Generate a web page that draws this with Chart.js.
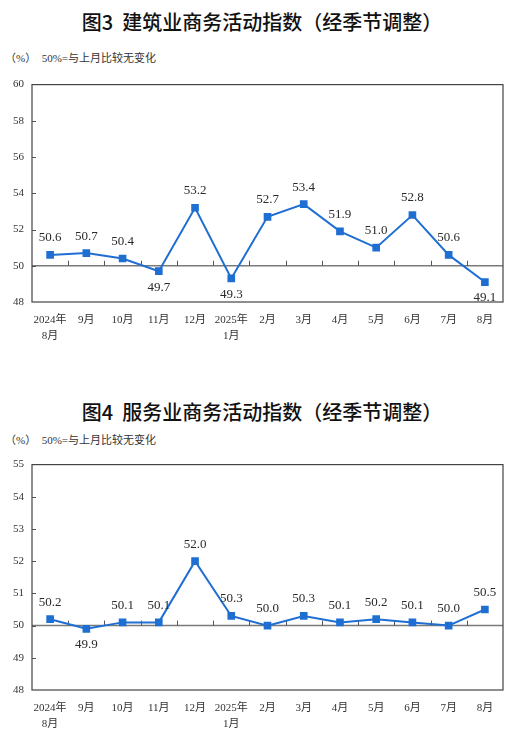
<!DOCTYPE html>
<html lang="zh">
<head>
<meta charset="UTF-8">
<title>建筑业与服务业商务活动指数</title>
<script src="https://cdn.jsdelivr.net/npm/chart.js@4"></script>
<style>
  body { margin: 0; background: #fff; width: 524px; height: 738px; position: relative; overflow: hidden; }
  .title { position: absolute; left: 0; width: 524px; text-align: center; font-family: "Noto Sans CJK SC", sans-serif; font-size: 20px; font-weight: 500; color: #111; line-height: 24px; }
  .unit { position: absolute; left: 5px; font-family: "Liberation Serif", "Noto Sans CJK SC", serif; font-size: 11px; color: #333; line-height: 14px; white-space: pre; }
  .box { position: absolute; left: 0; width: 524px; }
</style>
<script>
const months = [['2024年', '8月'], '9月', '10月', '11月', '12月', ['2025年', '1月'], '2月', '3月', '4月', '5月', '6月', '7月', '8月'];
const constructionIndex = [50.6, 50.7, 50.4, 49.7, 53.2, 49.3, 52.7, 53.4, 51.9, 51.0, 52.8, 50.6, 49.1];
const servicesIndex = [50.2, 49.9, 50.1, 50.1, 52.0, 50.3, 50.0, 50.3, 50.1, 50.2, 50.1, 50.0, 50.5];
const constructionTicks = [48, 50, 52, 54, 56, 58, 60];
const servicesTicks = [48, 49, 50, 51, 52, 53, 54, 55];
const baseline = 50;

const blue = '#1f6fd2';
const serif = '"Liberation Serif", "Noto Sans CJK SC", serif';

// box, 50 line, little tick marks, value labels
const decor = {
    id: 'decor',
    beforeDatasetsDraw(chart) {
        const { ctx, chartArea: a, scales: { x, y } } = chart;
        ctx.save();
        const y50 = y.getPixelForValue(baseline);
        ctx.strokeStyle = '#7a7a7a';
        ctx.lineWidth = 1.5;
        ctx.beginPath();
        ctx.moveTo(a.left, y50);
        ctx.lineTo(a.right, y50);
        ctx.stroke();

        ctx.strokeStyle = '#555';
        ctx.lineWidth = 1;
        ctx.beginPath();
        // category ticks on the 50 line
        for (let i = 1; i < x.ticks.length; i++) {
            const px = Math.round((x.getPixelForValue(i - 1) + x.getPixelForValue(i)) / 2) + 0.5;
            ctx.moveTo(px, y50);
            ctx.lineTo(px, y50 - 5);
        }
        // value ticks on the left border
        y.ticks.forEach(t => {
            const py = Math.round(y.getPixelForValue(t.value)) + 0.5;
            if (py > a.top + 1 && py < a.bottom - 1) {
                ctx.moveTo(a.left, py);
                ctx.lineTo(a.left + 4, py);
            }
        });
        ctx.stroke();

        ctx.strokeStyle = '#444';
        ctx.lineWidth = 1.2;
        ctx.strokeRect(a.left, a.top, a.right - a.left, a.bottom - a.top);
        ctx.restore();
    },
    afterDatasetsDraw(chart) {
        const { ctx } = chart;
        const meta = chart.getDatasetMeta(0);
        const values = chart.data.datasets[0].data;
        ctx.save();
        ctx.font = '13px ' + serif;
        ctx.fillStyle = '#2a2a2a';
        ctx.textAlign = 'center';
        ctx.textBaseline = 'middle';
        meta.data.forEach((pt, i) => {
            const v = values[i];
            const dy = v < baseline ? 16 : -17;
            ctx.fillText(v.toFixed(1), pt.x, pt.y + dy);
        });
        ctx.restore();
    }
};

function makeChart(id, values, ticks, xHeight) {
    const lo = ticks[0], hi = ticks[ticks.length - 1];
    return new Chart(document.getElementById(id), {
        type: 'line',
        data: {
            labels: months,
            datasets: [{
                data: values,
                borderColor: blue,
                backgroundColor: blue,
                borderWidth: 2,
                pointStyle: 'rect',
                pointRadius: 4,
                pointHoverRadius: 4,
                tension: 0
            }]
        },
        options: {
            responsive: false,
            animation: false,
            events: [],
            layout: { padding: { top: 7, right: 21, left: 0, bottom: 0 } },
            plugins: { legend: { display: false }, tooltip: { enabled: false } },
            scales: {
                x: {
                    offset: true,
                    grid: { display: false, drawTicks: false },
                    border: { display: false },
                    ticks: { color: '#333', font: { family: serif, size: 11, lineHeight: 1.45 }, padding: 10, maxRotation: 0, autoSkip: false },
                    afterFit(s) { s.height = xHeight; }
                },
                y: {
                    min: lo,
                    max: hi,
                    afterBuildTicks(s) { s.ticks = ticks.map(v => ({ value: v })); },
                    grid: { display: false, drawTicks: false },
                    border: { display: false },
                    ticks: { color: '#333', font: { family: serif, size: 11 }, padding: 8 },
                    afterFit(s) { s.width = 32; }
                }
            }
        },
        plugins: [decor]
    });
}

window.onload = function () {
    makeChart('chart3', constructionIndex, constructionTicks, 48);
    makeChart('chart4', servicesIndex, servicesTicks, 48);
};
</script>
</head>
<body>
  <div class="title" style="top:10px">图3&nbsp;&nbsp;建筑业商务活动指数（经季节调整）</div>
  <div class="unit" style="top:51px">（%）  50%=与上月比较无变化</div>
  <div class="box" style="top:70px"><canvas id="chart3" width="524" height="280"></canvas></div>

  <div class="title" style="top:400px">图4&nbsp;&nbsp;服务业商务活动指数（经季节调整）</div>
  <div class="unit" style="top:433px">（%）  50%=与上月比较无变化</div>
  <div class="box" style="top:450px"><canvas id="chart4" width="524" height="288"></canvas></div>
</body>
</html>
